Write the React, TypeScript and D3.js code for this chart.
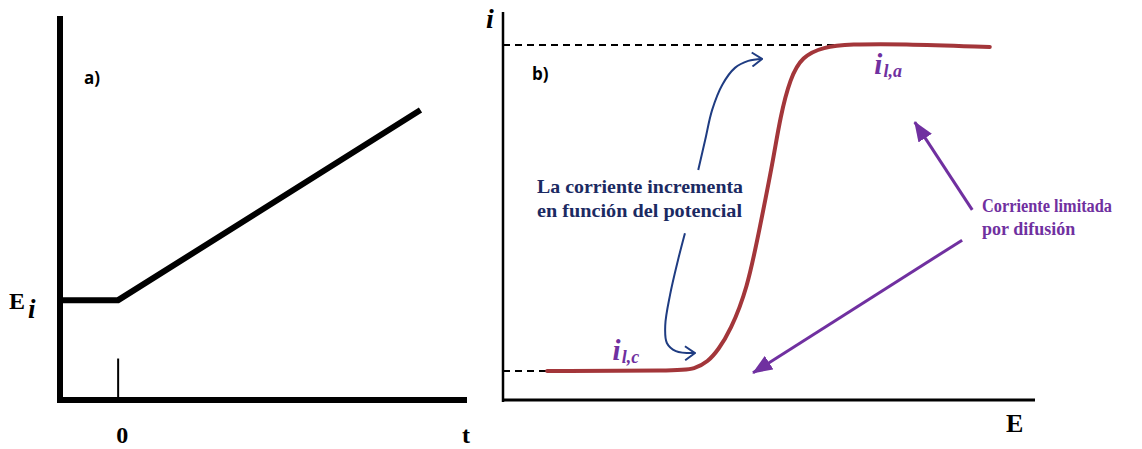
import * as d3 from "d3";

// panel a: potential ramp vs time
const rampTime = [-1, 0, 5.2];
const rampPotential = [2.6, 2.6, 7.55];
const timeTicks = [0];

// panel b: current vs potential (sigmoid wave)
const potential = [0.83, 3.3, 3.6, 3.85, 4.05, 4.27, 4.59, 4.83, 5.08, 5.21, 5.4, 5.62, 6.02, 6.52, 7.46, 9.15];
const current = [0.75, 0.75, 0.8, 0.98, 1.3, 1.78, 2.85, 4.46, 6.19, 7.29, 8.3, 8.85, 9.1, 9.17, 9.18, 9.1];
const limitNames = ["l,c", "l,a"];
const limitValues = [0.75, 9.15];
const limitDashEnd = [1.1, 6.4];

// annotation arrows (in E / i units of panel b)
const upArrowE = [3.67, 3.8, 3.93, 4.12, 4.36, 4.61, 4.87];
const upArrowI = [5.93, 6.7, 7.47, 8.12, 8.56, 8.74, 8.79];
const downArrowE = [3.42, 3.29, 3.14, 3.05, 3.08, 3.25, 3.61];
const downArrowI = [4.3, 3.61, 2.71, 1.93, 1.47, 1.26, 1.21];

const serif = "'Liberation Serif', serif";
const sans = "'Open Sans', sans-serif";
const navy = "#1b2a62";
const blue = "#1f3c82";
const purple = "#7030a0";
const red = "#a3363a";

export default function App() {
  const W = 1142;
  const H = 449;

  const tx = d3.scaleLinear().domain([-1, 6]).range([60, 467]);
  const ey = d3.scaleLinear().domain([0, 10]).range([400, 16]);

  const ex = d3.scaleLinear().domain([0, 10]).range([503, 1035]);
  const iy = d3.scaleLinear().domain([0, 10]).range([400, 12]);

  const ramp = d3
    .line<number>()
    .x((d) => tx(d))
    .y((_, k) => ey(rampPotential[k]))(rampTime);

  const wave = d3
    .line<number>()
    .x((d) => ex(d))
    .y((_, k) => iy(current[k]))
    .curve(d3.curveBasis)(potential);

  const arrowPath = (es: number[], is: number[]) =>
    d3
      .line<number>()
      .x((d) => ex(d))
      .y((_, k) => iy(is[k]))
      .curve(d3.curveCatmullRom)(es);

  return (
    <svg
      width={W}
      height={H}
      style={{ position: "absolute", left: 0, top: 0, background: "#fff" }}
    >
      <defs>
        <marker
          id="open"
          viewBox="0 0 12 16"
          refX={11}
          refY={8}
          markerWidth={12}
          markerHeight={16}
          markerUnits="userSpaceOnUse"
          orient="auto"
        >
          <path d="M1,1 L11,8 L1,15" fill="none" stroke={blue} strokeWidth={2} />
        </marker>
        <marker
          id="solid"
          viewBox="0 0 20 16"
          refX={19}
          refY={8}
          markerWidth={20}
          markerHeight={16}
          markerUnits="userSpaceOnUse"
          orient="auto"
        >
          <path d="M0,0 L20,8 L0,16 Z" fill={purple} />
        </marker>
      </defs>

      {/* ---- panel a ---- */}
      <line x1={tx(-1)} x2={tx(-1)} y1={ey(10)} y2={ey(0) + 3} stroke="#000" strokeWidth={6} />
      <line x1={tx(-1) - 3} x2={tx(6)} y1={ey(0)} y2={ey(0)} stroke="#000" strokeWidth={6} />
      {timeTicks.map((t) => (
        <g key={t}>
          <line x1={tx(t)} x2={tx(t)} y1={ey(0)} y2={ey(1.08)} stroke="#000" strokeWidth={2} />
          <text x={tx(t) + 4} y={443} textAnchor="middle" fontFamily={serif} fontWeight="bold" fontSize={24}>
            {t}
          </text>
        </g>
      ))}
      <path d={ramp ?? ""} fill="none" stroke="#000" strokeWidth={6} />
      <text x={9} y={309} fontFamily={serif} fontWeight="bold" fontSize={24}>
        E
        <tspan fontStyle="italic" fontSize={27} dx={3} dy={9}>
          i
        </tspan>
      </text>
      <text x={462} y={443} fontFamily={serif} fontWeight="bold" fontSize={24}>
        t
      </text>
      <text x={84} y={84} fontFamily={sans} fontWeight="bold" fontSize={17}>
        a)
      </text>

      {/* ---- panel b ---- */}
      <line x1={ex(0)} x2={ex(0)} y1={iy(10)} y2={iy(0) + 2} stroke="#000" strokeWidth={2.5} />
      <line x1={ex(0)} x2={ex(10)} y1={iy(0)} y2={iy(0)} stroke="#000" strokeWidth={3} />
      <text x={486} y={28} fontFamily={serif} fontWeight="bold" fontStyle="italic" fontSize={28}>
        i
      </text>
      <text x={1006} y={432} fontFamily={serif} fontWeight="bold" fontSize={26}>
        E
      </text>
      <text x={532} y={80} fontFamily={sans} fontWeight="bold" fontSize={17}>
        b)
      </text>

      {limitValues.map((v, k) => (
        <line
          key={k}
          x1={ex(0)}
          x2={ex(limitDashEnd[k])}
          y1={iy(v)}
          y2={iy(v)}
          stroke="#000"
          strokeWidth={2}
          strokeDasharray="7 5"
        />
      ))}

      <path d={wave ?? ""} fill="none" stroke={red} strokeWidth={4} strokeLinecap="round" />

      {/* limiting current labels */}
      <text x={ex(6.98)} y={iy(8.4)} fill={purple} fontFamily={serif} fontWeight="bold" fontStyle="italic" fontSize={29}>
        i
        <tspan fontSize={18} dx={1} dy={3}>
          {limitNames[1]}
        </tspan>
      </text>
      <text x={ex(2.06)} y={iy(1.03)} fill={purple} fontFamily={serif} fontWeight="bold" fontStyle="italic" fontSize={29}>
        i
        <tspan fontSize={18} dx={1} dy={3}>
          {limitNames[0]}
        </tspan>
      </text>

      {/* blue arrows + caption */}
      <path d={arrowPath(upArrowE, upArrowI) ?? ""} fill="none" stroke={blue} strokeWidth={2} markerEnd="url(#open)" />
      <path d={arrowPath(downArrowE, downArrowI) ?? ""} fill="none" stroke={blue} strokeWidth={2} markerEnd="url(#open)" />
      <text x={537} y={193} fill={navy} fontFamily={serif} fontWeight="bold" fontSize={19} textLength={206} lengthAdjust="spacingAndGlyphs">
        La corriente incrementa
      </text>
      <text x={537} y={217} fill={navy} fontFamily={serif} fontWeight="bold" fontSize={19} textLength={205} lengthAdjust="spacingAndGlyphs">
        en función del potencial
      </text>

      {/* purple arrows + caption */}
      <line x1={ex(8.82)} y1={iy(4.9)} x2={ex(7.74)} y2={iy(7.16)} stroke={purple} strokeWidth={3} markerEnd="url(#solid)" />
      <line x1={ex(8.63)} y1={iy(4.12)} x2={ex(4.7)} y2={iy(0.7)} stroke={purple} strokeWidth={3} markerEnd="url(#solid)" />
      <text x={982} y={212} fill={purple} fontFamily={serif} fontWeight="bold" fontSize={18} textLength={130} lengthAdjust="spacingAndGlyphs">
        Corriente limitada
      </text>
      <text x={982} y={235} fill={purple} fontFamily={serif} fontWeight="bold" fontSize={18}>
        por difusión
      </text>
    </svg>
  );
}
